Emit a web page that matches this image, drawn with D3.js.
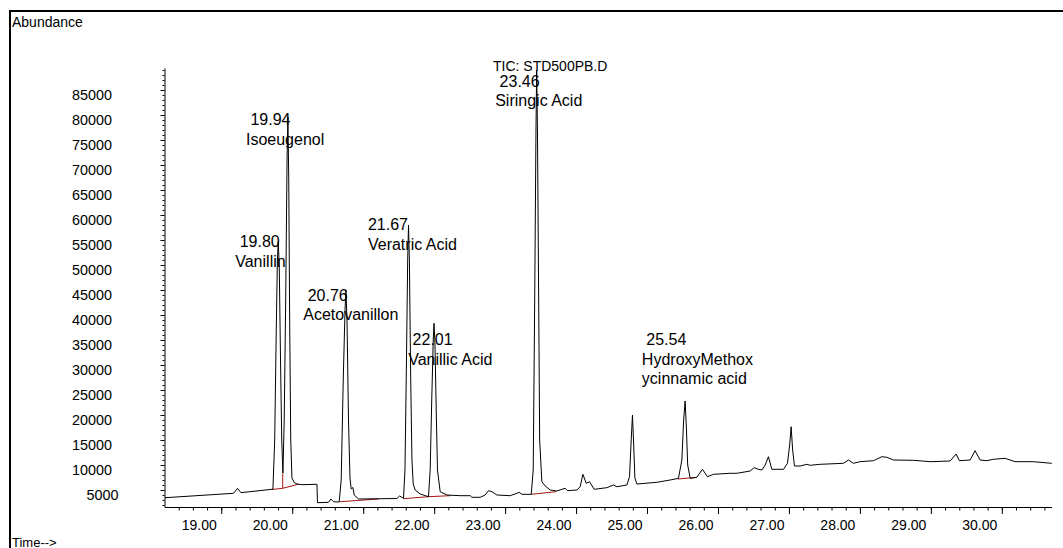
<!DOCTYPE html>
<html>
<head>
<meta charset="utf-8">
<script src="https://cdn.jsdelivr.net/npm/d3@7"></script>
<style>
  html, body { margin: 0; padding: 0; background: #fff; }
  svg text { font-family: "Liberation Sans", Arial, sans-serif; fill: #000; }
</style>
</head>
<body>
<div id="chart"></div>
<script>
// TIC trace: retention time (min) and abundance
const times = [
  18.21, 19.173, 19.229, 19.277, 19.714, 19.728, 19.753, 19.775, 19.791, 19.803,
  19.817, 19.835, 19.852, 19.869, 19.887, 19.908, 19.927, 19.939, 19.951, 19.965,
  19.979, 19.996, 20.028, 20.066, 20.137, 20.348, 20.356, 20.511, 20.545, 20.582,
  20.662, 20.690, 20.719, 20.744, 20.757, 20.772, 20.793, 20.814, 20.831, 20.855,
  20.874, 20.934, 21.475, 21.512, 21.568, 21.589, 21.610, 21.627, 21.639, 21.651,
  21.670, 21.687, 21.705, 21.733, 21.804, 21.920, 21.944, 21.966, 21.987, 21.998,
  22.012, 22.032, 22.047, 22.085, 22.180, 22.367, 22.508, 22.532, 22.649, 22.719,
  22.766, 22.814, 22.884, 23.072, 23.166, 23.198, 23.236, 23.368, 23.396, 23.417,
  23.435, 23.445, 23.456, 23.473, 23.487, 23.518, 23.565, 23.635, 23.730, 23.800,
  23.847, 23.879, 24.012, 24.058, 24.096, 24.143, 24.189, 24.255, 24.434, 24.527,
  24.575, 24.716, 24.753, 24.777, 24.795, 24.812, 24.829, 24.857, 25.139, 25.326,
  25.443, 25.491, 25.516, 25.537, 25.556, 25.573, 25.608, 25.702, 25.781, 25.852,
  25.936, 26.171, 26.266, 26.453, 26.510, 26.570, 26.618, 26.665, 26.711, 26.759,
  26.923, 26.979, 27.010, 27.031, 27.052, 27.078, 27.158, 27.252, 27.299, 27.440,
  27.768, 27.839, 27.909, 28.003, 28.191, 28.309, 28.380, 28.473, 28.754, 28.990,
  29.271, 29.356, 29.402, 29.553, 29.623, 29.694, 29.788, 29.881, 30.046, 30.187,
  30.445, 30.704
];
const abundance = [
  3460, 4340, 5340, 4460, 5140, 5200, 15000, 37000, 51000, 54660,
  50000, 31000, 15000, 8340, 19000, 43000, 71000, 79600, 67000, 37000,
  15000, 7400, 6500, 6200, 6060, 6140, 2460, 2540, 3200, 2660,
  2600, 7000, 27000, 41000, 45000, 39000, 19000, 7400, 5200, 5500,
  4000, 3200, 3300, 3800, 3340, 9000, 31000, 51000, 58000, 51000,
  27000, 11000, 6200, 5000, 4200, 3660, 9000, 23000, 35000, 38340,
  34000, 19000, 9000, 4660, 4000, 3860, 3860, 3540, 3540, 4000,
  4860, 4660, 4000, 3860, 4340, 4540, 4140, 4140, 9000, 43000,
  77000, 89000, 77000, 43000, 15000, 6660, 5800, 5000, 4800, 5140,
  5340, 4860, 5000, 5660, 8140, 6340, 6660, 5140, 5460, 6000,
  5660, 6000, 7660, 15000, 20000, 14000, 7400, 6200, 6540, 7000,
  7340, 11000, 19000, 22800, 17000, 10000, 7340, 7540, 9140, 7660,
  8140, 8340, 8340, 8800, 9460, 9140, 9000, 10000, 11660, 9140,
  9140, 10340, 14000, 17660, 13000, 9800, 9800, 10140, 9940, 10140,
  10340, 11000, 10340, 10660, 10860, 11660, 11540, 11000, 10940, 10660,
  10800, 12200, 10860, 11000, 12860, 11000, 10860, 11140, 11340, 10660,
  10660, 10340
];

// integration baselines (red) under the labelled peaks
const baseTimes = [[19.714, 19.866, 20.089], [20.676, 21.216], [21.568, 21.920, 22.226], [23.368, 23.720], [25.435, 25.702]];
const baseAbund = [[5100, 5340, 6160], [2660, 3200], [3260, 3660, 3860], [4140, 4660], [7200, 7540]];
const dropTimes = [19.866];
const dropAbund = [[5340, 8200]];

// peak annotations: retention time, compound name, anchor (time, abundance)
const peakRT = [" 19.80", " 19.94", " 20.76", "21.67", " 22.01", " 23.46", " 25.54"];
const peakNames = [["Vanillin"], ["Isoeugenol"], ["Acetovanillon"], ["Veratric Acid"], ["Vanillic Acid"], ["Siringic Acid"], ["HydroxyMethox", "ycinnamic acid"]];
const labelTime = [19.197, 19.348, 20.155, 21.067, 21.634, 22.860, 24.927];
const labelAbund = [53600, 78000, 42900, 57000, 34000, 85700, 34000];

// axis ticks
const xTicks = [19, 20, 21, 22, 23, 24, 25, 26, 27, 28, 29, 30];
const yTicks = [5000, 10000, 15000, 20000, 25000, 30000, 35000, 40000, 45000, 50000,
                55000, 60000, 65000, 70000, 75000, 80000, 85000];
const xMinor = d3.range(92, 154).map(i => i / 5);
const yMinor = d3.range(2, 90).map(k => k * 1000);

const W = 1063, H = 548;
const x = d3.scaleLinear().domain([18.2, 30.7]).range([164.5, 1051.5]);
const y = d3.scaleLinear().domain([1600, 89400]).range([507, 68]);

const svg = d3.select("#chart").append("svg")
    .attr("width", W).attr("height", H);

// outer frame
svg.append("path")
  .attr("d", "M10,548V11H1063")
  .attr("fill", "none").attr("stroke", "#000").attr("stroke-width", 2);
svg.append("text").attr("x", 12).attr("y", 27).attr("font-size", 14).text("Abundance");
svg.append("text").attr("x", 12).attr("y", 546.5).attr("font-size", 13).text("Time-->");
svg.append("text").attr("x", 493).attr("y", 71).attr("font-size", 14).text("TIC: STD500PB.D");

// x axis: minor then major ticks
svg.append("g").attr("transform", "translate(0,507)")
  .call(d3.axisBottom(x).tickValues(xMinor).tickSize(3.5).tickSizeOuter(0).tickFormat(""));
const gx = svg.append("g").attr("transform", "translate(0,507)")
  .call(d3.axisBottom(x).tickValues(xTicks).tickSize(7).tickFormat(d3.format(".2f")));
gx.select(".domain").remove();
gx.selectAll("text")
  .attr("font-size", 14).attr("font-family", null)
  .attr("text-anchor", "end").attr("x", -5).attr("y", 22.6).attr("dy", null);

// y axis: minor then major ticks
svg.append("g").attr("transform", "translate(164.5,0)")
  .call(d3.axisLeft(y).tickValues(yMinor).tickSize(2).tickSizeOuter(0).tickFormat(""));
const gy = svg.append("g").attr("transform", "translate(164.5,0)")
  .call(d3.axisLeft(y).tickValues(yTicks).tickSize(4).tickFormat(d3.format("d")));
gy.select(".domain").remove();
gy.selectAll("text")
  .attr("font-size", 14.4).attr("font-family", null)
  .attr("x", d => d < 10000 ? -46 : -52.5).attr("y", 9).attr("dy", null);

// integration baselines
const line = d3.line().x(d => x(d[0])).y(d => y(d[1]));
baseTimes.forEach((ts, i) => {
  svg.append("path")
    .datum(ts.map((t, j) => [t, baseAbund[i][j]]))
    .attr("fill", "none").attr("stroke", "#a31515").attr("stroke-width", 1)
    .attr("d", line);
});
dropTimes.forEach((t, i) => {
  svg.append("path")
    .datum(dropAbund[i].map(v => [t, v]))
    .attr("fill", "none").attr("stroke", "#a31515").attr("stroke-width", 1)
    .attr("d", line);
});

// chromatogram trace
svg.append("path")
  .datum(times.map((t, i) => [t, abundance[i]]))
  .attr("fill", "none").attr("stroke", "#000").attr("stroke-width", 1)
  .attr("stroke-linejoin", "round")
  .attr("d", line);

// peak labels
peakRT.forEach((rt, i) => {
  const lx = x(labelTime[i]);
  const t = svg.append("text")
    .attr("x", lx).attr("y", y(labelAbund[i]))
    .attr("font-size", 16)
    .style("white-space", "pre");
  t.append("tspan").attr("x", lx).text(rt);
  peakNames[i].forEach(name => {
    t.append("tspan").attr("x", lx).attr("dy", 19.5).text(name);
  });
});
</script>
</body>
</html>
